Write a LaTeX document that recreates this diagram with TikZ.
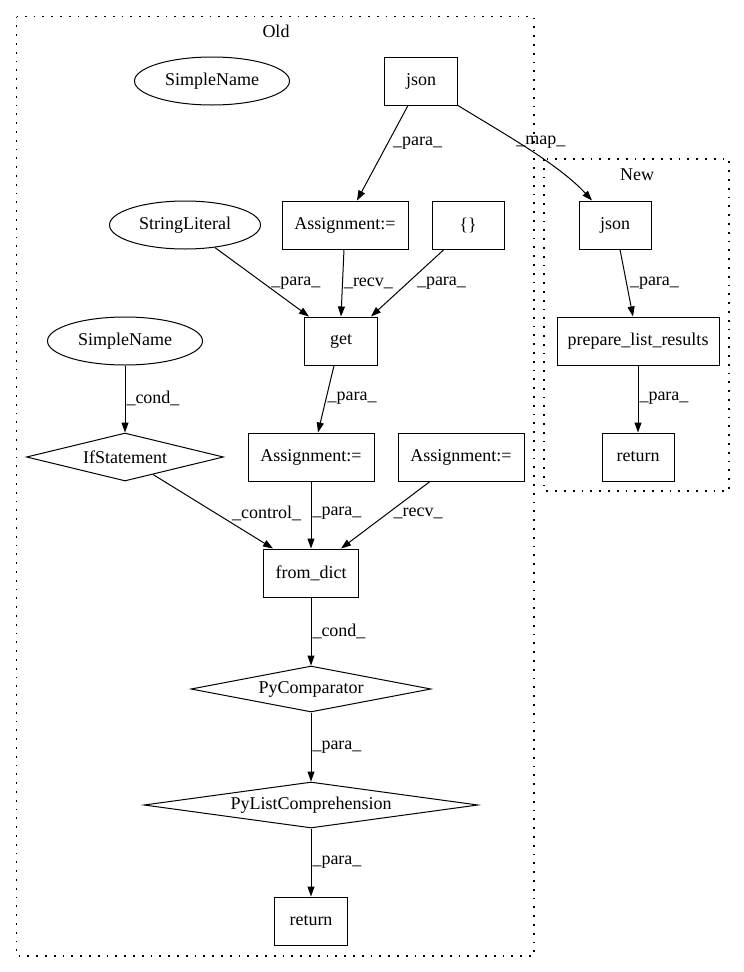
\documentclass[tikz,border=0pt]{standalone}
\usepackage{fontspec}
\setmainfont{Liberation Serif}
\usetikzlibrary{shapes.geometric,arrows.meta}
\begin{document}
\begin{tikzpicture}[x=1pt,y=-1pt,
  every node/.style={font=\fontsize{18}{20}\selectfont, inner sep=0pt},
  box/.style={draw, line width=1pt, rectangle, minimum height=48pt},
  ell/.style={draw, line width=1pt, ellipse, minimum height=48pt},
  dia/.style={draw, line width=1pt, diamond, aspect=6},
  arr/.style={line width=1pt, -{Triangle[length=10pt,width=7pt]}},
  lab/.style={anchor=west, inner sep=0pt},
  clus/.style={line width=1.2pt, dash pattern=on 1.8pt off 7pt}
]
\fill[white] (0,0) rectangle (744,972);
\useasboundingbox (0,0) rectangle (744,972);

% clusters
\draw[clus] (16.5,16.5) rectangle (534,956);
\node (oldlab) at (276,31) {Old};
\draw[clus] (544,159) rectangle (729,491);
\node (newlab) at (637,175) {New};

% nodes
\node[ell, minimum width=155pt] (sn1) at (212,81) {SimpleName};
\node[box, minimum width=73pt] (jsonO) at (421,81) {json};
\node[box, minimum width=126pt] (asg1) at (345,225) {Assignment:=};
\node[box, minimum width=72pt] (brace) at (468,225) {\{\}};
\node[ell, minimum width=151pt] (strlit) at (185,225) {StringLiteral};
\node[box, minimum width=72pt] (jsonN) at (615,225) {json};
\node[box, minimum width=73pt] (get) at (341,341) {get};
\node[ell, minimum width=155pt] (sn2) at (125,341) {SimpleName};
\node[box, minimum width=162pt] (prep) at (638,341) {prepare\_list\_results};
\node[dia, minimum width=197pt, minimum height=48pt] (ifst) at (125,457) {IfStatement};
\node[box, minimum width=126pt] (asg2) at (311,457) {Assignment:=};
\node[box, minimum width=126pt] (asg3) at (461,457) {Assignment:=};
\node[box, minimum width=72pt] (retN) at (638,457) {return};
\node[box, minimum width=95pt] (fd) at (311,573) {from\_dict};
\node[dia, minimum width=240pt, minimum height=46pt] (pyc) at (311,689) {PyComparator};
\node[dia, minimum width=334pt, minimum height=46pt] (pyl) at (311,805) {PyListComprehension};
\node[box, minimum width=73pt] (retO) at (311,921) {return};

% edges
\draw[arr] ([xshift=-13pt]jsonO.south) -- node[lab,pos=0.4,xshift=5pt]{\_para\_} ([xshift=12pt]asg1.north);
\draw[arr] (jsonO.south east) .. controls +(42,26) and +(-34,-37) .. ([xshift=-23pt]jsonN.north)
  node[lab,pos=0.43,xshift=-2pt]{\_map\_};
\draw[arr] (strlit.-37) -- node[lab,pos=0.52,xshift=7pt]{\_para\_} ([xshift=-32pt]get.north);
\draw[arr] ([xshift=-1pt]asg1.south) -- node[lab,pos=0.5,xshift=1pt]{\_recv\_} (get.north);
\draw[arr] ([xshift=-24pt]brace.south) -- node[lab,pos=0.5,xshift=9pt]{\_para\_} ([xshift=30pt]get.north);
\draw[arr] ([xshift=5pt]jsonN.south) -- node[lab,pos=0.5,xshift=3pt]{\_para\_} ([xshift=-5pt]prep.north);
\draw[arr] (sn2.south) -- node[lab,pos=0.49,xshift=1pt]{\_cond\_} (ifst.north);
\draw[arr] ([xshift=-7pt]get.south) -- node[lab,pos=0.49,xshift=1pt]{\_para\_} ([xshift=7pt]asg2.north);
\draw[arr] (prep.south) -- node[lab,pos=0.49,xshift=1pt]{\_para\_} (retN.north);
\draw[arr] (ifst.-32) -- node[lab,pos=0.53,xshift=15pt]{\_control\_} ([xshift=-38pt]fd.north);
\draw[arr] (asg2.south) -- node[lab,pos=0.47,xshift=1pt]{\_para\_} (fd.north);
\draw[arr] ([xshift=-31pt]asg3.south) -- node[lab,pos=0.47,xshift=5pt]{\_recv\_} ([xshift=30pt]fd.north);
\draw[arr] (fd.south) -- node[lab,pos=0.5,xshift=1pt]{\_cond\_} (pyc.north);
\draw[arr] (pyc.south) -- node[lab,pos=0.5,xshift=1pt]{\_para\_} (pyl.north);
\draw[arr] (pyl.south) -- node[lab,pos=0.5,xshift=1pt]{\_para\_} (retO.north);
\end{tikzpicture}
\end{document}
